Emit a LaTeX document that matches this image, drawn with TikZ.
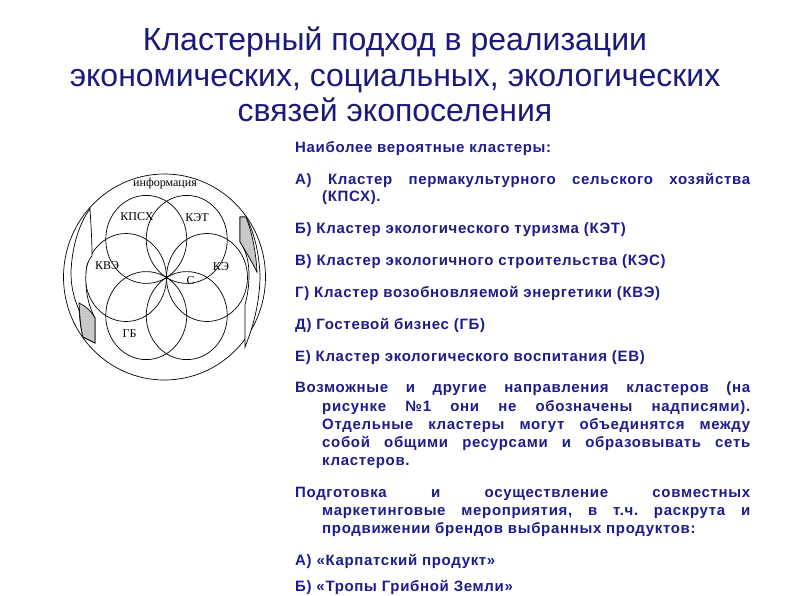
\documentclass[tikz,border=0pt]{standalone}
\usepackage{fontspec}
\setmainfont{Liberation Sans}
\newfontfamily\titlefont{Liberation Sans}
\newfontfamily\bodyfont[LetterSpace=4.5]{Liberation Sans}
\newfontfamily\labelfont{Liberation Serif}
\definecolor{navy}{RGB}{26,26,122}
\definecolor{txt}{RGB}{28,28,140}
\definecolor{shade}{RGB}{200,200,200}
\frenchspacing
\tikzset{
  ttl/.style={font=\titlefont\fontsize{32}{36}\selectfont, text=navy, inner sep=0, anchor=base},
  body/.style={font=\bodyfont\bfseries\fontsize{15}{18}\selectfont, text=txt, inner sep=0, anchor=base west},
  lbl/.style={font=\labelfont\fontsize{12}{14}\selectfont, inner sep=0},
  ring/.style={draw=black, line width=0.7pt},
  arrowband/.style={draw=black, line width=0.7pt, fill=white},
  arrowshade/.style={draw=black, line width=0.7pt, fill=shade}
}
\newcommand{\jfull}[1]{\makebox[455pt][s]{#1}}
\newcommand{\jind}[1]{\makebox[428pt][s]{#1}}
\begin{document}
\begin{tikzpicture}[x=1pt,y=-1pt]
\useasboundingbox (0,0) rectangle (794,595);
\fill[white] (0,0) rectangle (794,595);

% title
\node[ttl] (t1) at (395,50) {Кластерный подход в реализации};
\node[ttl] (t2) at (395,86.5) {экономических, социальных, экологических};
\node[ttl] (t3) at (395,121.5) {связей экопоселения};

% diagram
\draw[ring] (164.5,277) ellipse [x radius=101pt, y radius=103pt];
\foreach \cx/\cy in {207/277.5, 186.75/315.6, 146.25/315.6, 126/277.5, 146.25/239.4, 186.75/239.4}
  \draw[ring] (\cx,\cy) ellipse [x radius=40.5pt, y radius=44pt];

% left curved arrow
\draw[arrowband] (90,209) .. controls (80,222) and (72,245) .. (71,272)
  .. controls (71,290) and (75,300) .. (79,310)
  .. controls (80,322) and (81,330) .. (83,337) -- (95,343) -- (95,318)
  .. controls (88,305) and (85,290) .. (86,272)
  .. controls (86,265) and (89,259) .. (92,256)
  .. controls (92,240) and (91,225) .. (90,209) -- cycle;
\draw[arrowshade] (79,303) .. controls (86,306) and (92,312) .. (95,318) -- (95,343) -- (83,337)
  .. controls (81,330) and (80,320) .. (79,303) -- cycle;

% right curved arrow
\draw[arrowband] (240,217) -- (246,217) .. controls (254,232) and (259,252) .. (260,275)
  .. controls (260,300) and (254,325) .. (245,347)
  .. controls (245,330) and (245,318) .. (245,305)
  .. controls (249,290) and (250,275) .. (248,262)
  .. controls (246,252) and (243,246) .. (240,242) -- cycle;
\draw[arrowshade] (240,217) -- (246,217) .. controls (252,232) and (256,252) .. (257,272)
  .. controls (252,262) and (245,250) .. (240,242) -- cycle;

% labels
\node[lbl] (info) at (165,184) {информация};
\node[lbl] (kpsh) at (137,216.5) {КПСХ};
\node[lbl] (ket) at (197,218) {КЭТ};
\node[lbl] (kve) at (107,265.5) {КВЭ};
\node[lbl] (ke) at (221,266.5) {КЭ};
\node[lbl] (s) at (190.5,281) {С};
\node[lbl] (gb) at (129.5,333.5) {ГБ};

% right text
\node[body] (l1) at (295,152.8) {Наиболее вероятные кластеры:};
\node[body] (l2) at (295,184.5) {\jfull{А)  Кластер пермакультурного  сельского хозяйства}};
\node[body] (l3) at (322,201.2) {(КПСХ).};
\node[body] (l4) at (295,233.8) {Б) Кластер экологического туризма (КЭТ)};
\node[body] (l5) at (295,265.2) {В) Кластер экологичного строительства (КЭС)};
\node[body] (l6) at (295,297.8) {Г) Кластер возобновляемой энергетики (КВЭ)};
\node[body] (l7) at (295,329.5) {Д) Гостевой бизнес (ГБ)};
\node[body] (l8) at (295,361.8) {Е) Кластер экологического воспитания (ЕВ)};
\node[body] (l9) at (295,392.8) {\jfull{Возможные и другие направления кластеров (на}};
\node[body] (l10) at (322,411.2) {\jind{рисунке №1 они не обозначены надписями).}};
\node[body] (l11) at (322,429.5) {\jind{Отдельные кластеры могут объединятся между}};
\node[body] (l12) at (322,447.2) {\jind{собой общими ресурсами и образовывать сеть}};
\node[body] (l13) at (322,465.2) {кластеров.};
\node[body] (l14) at (295,497.2) {\jfull{Подготовка и осуществление совместных}};
\node[body] (l15) at (322,515.2) {\jind{маркетинговые мероприятия, в т.ч. раскрута и}};
\node[body] (l16) at (322,533.8) {продвижении брендов выбранных продуктов:};
\node[body] (l17) at (295,565.5) {А) «Карпатский продукт»};
\node[body] (l18) at (295,591.5) {Б) «Тропы Грибной Земли»};
\end{tikzpicture}
\end{document}
